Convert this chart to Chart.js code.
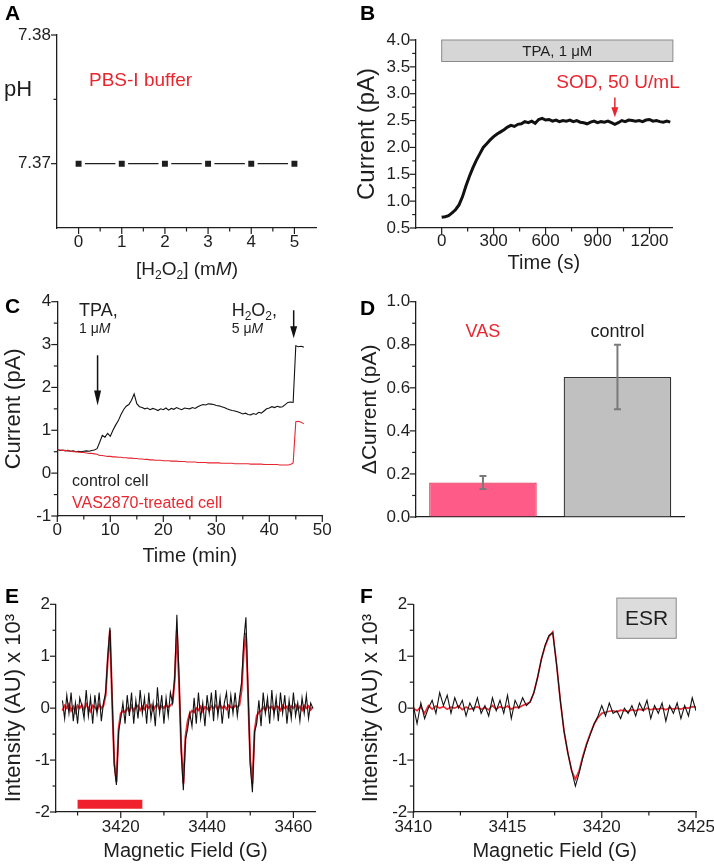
<!DOCTYPE html>
<html>
<head>
<meta charset="utf-8">
<script src="https://cdn.jsdelivr.net/npm/chart.js@4.4.1/dist/chart.umd.min.js"></script>
<style>
  html, body { margin: 0; padding: 0; background: #fff; overflow: hidden; }
  body { width: 714px; height: 865px; position: relative; }
  canvas { position: absolute; }
</style>
</head>
<body>
<canvas id="panelA"></canvas>
<canvas id="panelB"></canvas>
<canvas id="panelC"></canvas>
<canvas id="panelD"></canvas>
<canvas id="panelE"></canvas>
<canvas id="panelF"></canvas>
<script>
/* =====================
   DATA
===================== */

// A: pH vs H2O2
const phConc = [0, 1, 2, 3, 4, 5];
const phValues = [7.37, 7.37, 7.37, 7.37, 7.37, 7.37];

// B: current after TPA, sampled every 20 s from t = 0
const tpaStart = 0, tpaStep = 20;
const tpaCurrent = [
  0.70, 0.71, 0.73, 0.78, 0.84, 0.93, 1.08, 1.28, 1.46, 1.62,
  1.76, 1.88, 2.00, 2.07, 2.14, 2.20, 2.25, 2.29, 2.33, 2.38,
  2.41, 2.39, 2.43, 2.44, 2.48, 2.46, 2.49, 2.45, 2.52, 2.54,
  2.51, 2.52, 2.49, 2.51, 2.48, 2.50, 2.49, 2.51, 2.48, 2.50,
  2.47, 2.46, 2.44, 2.47, 2.49, 2.46, 2.48, 2.47, 2.49, 2.46,
  2.43, 2.46, 2.50, 2.48, 2.51, 2.50, 2.49, 2.50, 2.48, 2.51,
  2.52, 2.49, 2.50, 2.48, 2.47, 2.49, 2.47
];
const tpaBandTime = [0, 1335];
const tpaBandCurrent = [3.6, 4.0];
const sodTime = 1000;
const sodArrow = [2.93, 2.56];

// C: control vs VAS2870 cell, sampled every 0.5 min from t = 0
const cellStart = 0, cellStep = 0.5;
const controlCell = [
  0.55, 0.53, 0.54, 0.52, 0.53, 0.51, 0.52, 0.50, 0.51, 0.50,
  0.51, 0.52, 0.51, 0.53, 0.54, 0.57, 0.72, 0.88, 0.84, 0.93,
  0.86, 1.00, 1.12, 1.22, 1.36, 1.48, 1.56, 1.60, 1.70, 1.85,
  1.62, 1.55, 1.53, 1.50, 1.52, 1.48, 1.51, 1.49, 1.46, 1.50,
  1.48, 1.52, 1.47, 1.51, 1.49, 1.53, 1.50, 1.48, 1.52, 1.51,
  1.50, 1.53, 1.51, 1.55, 1.58, 1.60, 1.59, 1.62, 1.61, 1.60,
  1.58, 1.57, 1.55, 1.53, 1.50, 1.48, 1.46, 1.45, 1.43, 1.41,
  1.38, 1.40, 1.37, 1.36, 1.39, 1.37, 1.42, 1.40, 1.45, 1.50,
  1.52, 1.55, 1.53, 1.56, 1.54, 1.55, 1.60, 1.65, 1.66, 1.65,
  2.97, 2.95, 2.96, 2.94
];
const vasCell = [
  0.55, 0.54, 0.53, 0.53, 0.52, 0.51, 0.50, 0.50, 0.49, 0.48,
  0.48, 0.47, 0.46, 0.46, 0.45, 0.44, 0.41, 0.41, 0.40, 0.39,
  0.39, 0.38, 0.38, 0.37, 0.37, 0.36, 0.36, 0.35, 0.35, 0.34,
  0.34, 0.33, 0.33, 0.32, 0.32, 0.31, 0.31, 0.30, 0.30, 0.30,
  0.29, 0.29, 0.29, 0.28, 0.28, 0.28, 0.27, 0.27, 0.27, 0.26,
  0.26, 0.26, 0.26, 0.25, 0.25, 0.25, 0.25, 0.24, 0.24, 0.24,
  0.24, 0.24, 0.23, 0.23, 0.23, 0.23, 0.23, 0.22, 0.22, 0.22,
  0.22, 0.22, 0.22, 0.21, 0.21, 0.21, 0.21, 0.21, 0.20, 0.20,
  0.20, 0.20, 0.20, 0.20, 0.19, 0.19, 0.19, 0.19, 0.20, 0.24,
  1.20, 1.21, 1.19, 1.15
];
const tpaArrowTime = 7.6, tpaArrow = [2.75, 1.58];
const h2o2ArrowTime = 44.6, h2o2Arrow = [3.8, 3.15];

// D: delta current
const barLabels = ['VAS', 'control'];
const barValues = [0.16, 0.65];
const barErrLow = [0.13, 0.50];
const barErrHigh = [0.19, 0.80];

// E: ESR spectrum, sampled every 0.5 G from 3406.5 G
const esrWideStart = 3406.5, esrWideStep = 0.5;
const esrWideRaw = [
  0.15, -0.2, 0.25, -0.1, 0.3, -0.25, 0.1, -0.3, 0.2, 0.05,
  -0.2, 0.35, -0.15, 0.2, -0.3, 0.25, -0.1, 0.3, -0.25, 0.1,
  0.3, 1.0, 1.55, 0.2, -1.1, -1.48, -0.45, -0.2, 0.1, -0.3,
  0.25, -0.15, 0.3, -0.3, 0.15, -0.2, 0.35, -0.1, 0.2, -0.3,
  0.3, -0.2, 0.1, -0.35, 0.4, -0.1, 0.25, -0.3, 0.2, -0.15,
  0.3, 0.1, 0.6, 1.8, 0.6, -0.8, -1.58, -0.6, -0.4, -0.1,
  -0.35, 0.2, -0.3, 0.3, -0.2, 0.1, -0.35, 0.25, -0.1, 0.3,
  -0.25, 0.35, -0.15, 0.2, -0.3, 0.1, 0.3, -0.2, 0.25, -0.1,
  0.3, -0.15, 0.2, 0.5, 1.3, 1.75, 0.3, -1.1, -1.62, -0.45,
  -0.3, 0.15, -0.35, 0.3, -0.1, 0.2, -0.3, 0.35, -0.15, 0.2,
  -0.25, 0.3, -0.1, 0.25, -0.3, 0.15, -0.2, 0.3, -0.15, 0.1,
  -0.25, 0.2, -0.1, 0.25, -0.2, 0.1, 0.0
];
const esrWideFit = [
  -0.05, 0.05, 0.0, 0.08, -0.05, 0.03, -0.08, 0.05, 0.0, 0.06,
  -0.04, 0.08, 0.0, -0.06, 0.05, 0.02, -0.05, 0.07, 0.0, 0.05,
  0.25, 0.95, 1.5, 0.15, -1.05, -1.42, -0.4, -0.1, -0.05, -0.08,
  0.0, -0.06, 0.04, -0.05, 0.02, 0.05, -0.04, 0.03, -0.02, 0.05,
  0.0, 0.06, -0.04, 0.03, 0.07, -0.02, 0.04, 0.0, 0.06, 0.02,
  0.05, 0.1, 0.55, 1.5, 0.5, -0.75, -1.45, -0.55, -0.25, -0.1,
  -0.05, -0.08, 0.0, -0.04, 0.03, -0.06, 0.02, 0.0, -0.05, 0.04,
  0.0, 0.05, -0.03, 0.06, 0.0, 0.04, -0.02, 0.05, 0.02, 0.0,
  0.05, 0.02, 0.06, 0.35, 1.1, 1.45, 0.25, -1.0, -1.45, -0.45,
  -0.15, -0.08, -0.05, 0.02, -0.04, 0.05, 0.0, 0.03, -0.05, 0.04,
  0.02, -0.04, 0.05, 0.0, 0.03, -0.05, 0.04, 0.0, 0.06, -0.02,
  0.03, -0.04, 0.05, 0.0, 0.04, -0.03, 0.02
];
const scaleBarField = [3410, 3425];
const scaleBarLevel = [-1.85, -1.85];

// F: single line, sampled every 0.2 G from 3410 G
const esrZoomStart = 3410, esrZoomStep = 0.2;
const esrZoomRaw = [
  0.05, -0.3, 0.1, -0.2, 0.0, 0.15, -0.1, 0.3, 0.05, 0.25,
  -0.1, 0.2, 0.0, 0.15, -0.15, 0.1, -0.05, 0.2, -0.1, 0.05,
  -0.15, 0.2, -0.05, 0.15, -0.1, 0.25, -0.2, 0.15, 0.0, 0.2,
  0.05, 0.12, 0.3, 0.6, 0.95, 1.22, 1.4, 1.45, 0.85, 0.15,
  -0.45, -0.86, -1.2, -1.5, -1.25, -0.95, -0.7, -0.5, -0.3, -0.15,
  0.05, -0.15, 0.1, -0.1, -0.05, -0.2, 0.0, -0.1, 0.05, -0.15,
  0.1, -0.05, 0.15, -0.2, 0.05, -0.1, 0.1, -0.25, 0.05, -0.1,
  0.1, -0.2, 0.05, -0.15, 0.2, -0.05
];
const esrZoomFit = [
  0.0, -0.05, 0.03, -0.1, 0.05, -0.02, 0.04, 0.0, 0.03, -0.02,
  0.02, 0.0, 0.04, -0.03, 0.02, -0.02, 0.0, 0.03, -0.02, 0.01,
  -0.03, 0.05, -0.02, 0.03, 0.0, 0.04, -0.02, 0.02, 0.01, 0.05,
  0.08, 0.12, 0.3, 0.6, 0.95, 1.2, 1.38, 1.47, 0.85, 0.15,
  -0.45, -0.86, -1.2, -1.37, -1.2, -0.92, -0.68, -0.48, -0.3, -0.18,
  -0.1, -0.08, -0.06, -0.05, -0.07, -0.04, -0.05, -0.06, -0.03, -0.05,
  -0.02, -0.04, 0.0, -0.03, -0.01, -0.02, 0.0, -0.03, 0.01, -0.02,
  0.0, -0.02, 0.01, 0.0, 0.03, 0.02
];
const esrBoxField = [3420.8, 3423.95];
const esrBoxLevel = [1.345, 2.12];

// tick labels
const aTicksX = [0, 1, 2, 3, 4, 5], aMinorX = [0.5, 1.5, 2.5, 3.5, 4.5];
const aTicksY = [7.37, 7.38], aMinorY = [7.375];
const bTicksX = [0, 300, 600, 900, 1200], bMinorX = [150, 450, 750, 1050];
const bTicksY = [0.5, 1.0, 1.5, 2.0, 2.5, 3.0, 3.5, 4.0], bMinorY = [0.75, 1.25, 1.75, 2.25, 2.75, 3.25, 3.75];
const cTicksX = [0, 10, 20, 30, 40, 50], cMinorX = [5, 15, 25, 35, 45];
const cTicksY = [-1, 0, 1, 2, 3, 4], cMinorY = [-0.5, 0.5, 1.5, 2.5, 3.5];
const dTicksY = [0, 0.2, 0.4, 0.6, 0.8, 1.0], dMinorY = [0.1, 0.3, 0.5, 0.7, 0.9];
const eTicksX = [3420, 3440, 3460], eMinorX = [3410, 3430, 3450];
const esrTicksY = [-2, -1, 0, 1, 2], esrMinorY = [-1.5, -0.5, 0.5, 1.5];
const fTicksX = [3410, 3415, 3420, 3425], fMinorX = [3412.5, 3417.5, 3422.5];

/* =====================
   HELPERS
===================== */

const FONT = "'Liberation Sans', Arial, Helvetica, sans-serif";
const INK = '#1e1e1e';
const RED = '#e8262f';
const TICK_SIZE = 17;

Chart.defaults.font.family = FONT;
Chart.defaults.color = INK;

const grid = (start, step, vals) => vals.map((v, i) => ({ x: +(start + i * step).toFixed(3), y: v }));

function txt(ctx, s, x, y, size, color, o = {}) {
  ctx.save();
  ctx.font = (o.bold ? 'bold ' : '') + size + 'px ' + FONT;
  ctx.fillStyle = color;
  ctx.textAlign = o.align || 'left';
  ctx.textBaseline = o.base || 'alphabetic';
  ctx.fillText(s, x, y);
  ctx.restore();
}

// parts: [text, kind] with kind 'n', 'i' (italic) or 'sub'
function rich(ctx, parts, x, y, size, color, align) {
  const fontOf = k => (k === 'i' ? 'italic ' : '') + (k === 'sub' ? Math.round(size * 0.65) : size) + 'px ' + FONT;
  ctx.save();
  ctx.fillStyle = color;
  ctx.textAlign = 'left';
  ctx.textBaseline = 'alphabetic';
  let w = 0;
  for (const [s, k] of parts) { ctx.font = fontOf(k); w += ctx.measureText(s).width; }
  let cx = align === 'center' ? x - w / 2 : x;
  for (const [s, k] of parts) {
    ctx.font = fontOf(k);
    ctx.fillText(s, cx, k === 'sub' ? y + size * 0.22 : y);
    cx += ctx.measureText(s).width;
  }
  ctx.restore();
}

function arrowDown(ctx, x, y1, y2, color, lw, hw, hl) {
  ctx.save();
  ctx.strokeStyle = color;
  ctx.fillStyle = color;
  ctx.lineWidth = lw;
  ctx.beginPath(); ctx.moveTo(x, y1); ctx.lineTo(x, y2 - hl + 1); ctx.stroke();
  ctx.beginPath();
  ctx.moveTo(x - hw / 2, y2 - hl); ctx.lineTo(x + hw / 2, y2 - hl); ctx.lineTo(x, y2);
  ctx.closePath(); ctx.fill();
  ctx.restore();
}

function buildScale(axisId, spec, box, area) {
  const horiz = axisId === 'x';
  const size = horiz ? (box.y + box.h - area.b) : (area.l - box.x);
  const sc = {
    type: spec.type || 'linear',
    position: horiz ? 'bottom' : 'left',
    afterFit: s => { if (horiz) s.height = size; else s.width = size; },
    grid: { drawOnChartArea: false, drawTicks: false },
    border: { display: true, color: INK, width: 1.3 },
    ticks: {
      display: !!spec.fmt, autoSkip: false, maxRotation: 0,
      padding: spec.pad, color: INK, font: { size: TICK_SIZE }
    },
    title: { display: false }
  };
  if (spec.min !== undefined) { sc.min = spec.min; sc.max = spec.max; }
  if (spec.major) {
    const all = spec.major.concat(spec.minor || []).sort((a, b) => a - b);
    sc.afterBuildTicks = s => { s.ticks = all.map(v => ({ value: v })); };
    sc.ticks.callback = v => spec.major.includes(v) ? spec.fmt(v) : '';
  }
  if (spec.title) {
    const lh = spec.titleSize * 1.2;
    const off = horiz ? (box.y + box.h - spec.titleAt) : (spec.titleAt - box.x);
    const pad = Math.max(off - lh / 2, 0);
    sc.title = {
      display: true, text: spec.title, color: INK, font: { size: spec.titleSize },
      padding: horiz ? { top: 0, bottom: pad } : { top: pad, bottom: 0 }
    };
  }
  return sc;
}

function tickMarks(specs) {
  return {
    id: 'tickMarks',
    afterDraw(chart) {
      const ctx = chart.ctx;
      ctx.save();
      ctx.strokeStyle = INK;
      ctx.lineWidth = 1.2;
      for (const id of ['x', 'y']) {
        const t = specs[id];
        if (!t.major) continue;
        const s = chart.scales[id];
        const marks = t.major.map(v => [v, 6]).concat((t.minor || []).map(v => [v, 3.5]));
        for (const [v, len] of marks) {
          const p = s.getPixelForValue(v);
          ctx.beginPath();
          if (id === 'x') { ctx.moveTo(p, s.top); ctx.lineTo(p, s.top + len); }
          else { ctx.moveTo(s.right, p); ctx.lineTo(s.right - len, p); }
          ctx.stroke();
        }
      }
      ctx.restore();
    }
  };
}

function makePanel(id, box, area, type, datasets, xSpec, ySpec, draw, labels) {
  const canvas = document.getElementById(id);
  canvas.width = box.w; canvas.height = box.h;
  canvas.style.left = box.x + 'px'; canvas.style.top = box.y + 'px';
  canvas.style.width = box.w + 'px'; canvas.style.height = box.h + 'px';
  const P = (x, y) => [x - box.x, y - box.y];
  const data = { datasets };
  if (labels) data.labels = labels;
  return new Chart(canvas, {
    type,
    data,
    options: {
      responsive: false,
      animation: false,
      devicePixelRatio: 1,
      layout: { padding: { left: 0, bottom: 0, top: area.t - box.y, right: box.x + box.w - area.r } },
      plugins: { legend: { display: false }, tooltip: { enabled: false } },
      scales: { x: buildScale('x', xSpec, box, area), y: buildScale('y', ySpec, box, area) }
    },
    plugins: [tickMarks({ x: xSpec, y: ySpec }), {
      id: 'notes',
      afterDraw(chart) { draw(chart.ctx, chart, P); }
    }]
  });
}

const lineSet = (data, color, width) => ({
  data, borderColor: color, borderWidth: width, pointRadius: 0, tension: 0, fill: false
});

/* =====================
   PANEL A
===================== */

makePanel('panelA', { x: 0, y: 0, w: 345, h: 285 }, { l: 57, t: 35, r: 316, b: 228 }, 'line',
  [{
    data: phConc.map((x, i) => ({ x, y: phValues[i] })),
    borderColor: INK, borderWidth: 1.3, tension: 0,
    pointStyle: 'rect', pointRadius: 6.6, pointBackgroundColor: INK,
    pointBorderColor: '#fff', pointBorderWidth: 3.4
  }],
  { min: -0.5, max: 5.5, major: aTicksX, minor: aMinorX, fmt: v => String(v), pad: 4 },
  { min: 7.365, max: 7.38, major: aTicksY, minor: aMinorY, fmt: v => v.toFixed(2), pad: 6 },
  (ctx, chart, P) => {
    txt(ctx, 'A', ...P(5, 20), 21, '#000', { bold: true });
    txt(ctx, 'pH', ...P(4, 96), 22, INK);
    txt(ctx, 'PBS-I buffer', ...P(89, 86.3), 19, RED);
    rich(ctx, [['[H', 'n'], ['2', 'sub'], ['O', 'n'], ['2', 'sub'], ['] (m', 'n'], ['M', 'i'], [')', 'n']],
      ...P(187, 274.5), 19, INK, 'center');
  });

/* =====================
   PANEL B
===================== */

makePanel('panelB', { x: 345, y: 0, w: 385, h: 285 }, { l: 415.7, t: 40, r: 672, b: 228 }, 'line',
  [lineSet(grid(tpaStart, tpaStep, tpaCurrent), '#111', 3)],
  { min: -150, max: 1330, major: bTicksX, minor: bMinorX, fmt: v => String(v), pad: 3,
    title: 'Time (s)', titleSize: 20, titleAt: 263 },
  { min: 0.5, max: 4.0, major: bTicksY, minor: bMinorY, fmt: v => v.toFixed(1), pad: 5.5,
    title: 'Current (pA)', titleSize: 24, titleAt: 367.5 },
  (ctx, chart, P) => {
    const xs = chart.scales.x, ys = chart.scales.y;
    txt(ctx, 'B', ...P(360, 20), 21, '#000', { bold: true });
    const x0 = xs.getPixelForValue(tpaBandTime[0]), x1 = xs.getPixelForValue(tpaBandTime[1]);
    const y0 = ys.getPixelForValue(tpaBandCurrent[1]), y1 = ys.getPixelForValue(tpaBandCurrent[0]);
    ctx.save();
    ctx.fillStyle = '#d6d6d6';
    ctx.strokeStyle = '#8a8a8a';
    ctx.lineWidth = 1;
    ctx.fillRect(x0, y0, x1 - x0, y1 - y0);
    ctx.strokeRect(x0, y0, x1 - x0, y1 - y0);
    ctx.restore();
    txt(ctx, 'TPA, 1 \u03bcM', (x0 + x1) / 2, (y0 + y1) / 2 + 1, 15, INK, { align: 'center', base: 'middle' });
    txt(ctx, 'SOD, 50 U/mL', ...P(618, 87.6), 19, RED, { align: 'center' });
    const ax = xs.getPixelForValue(sodTime);
    arrowDown(ctx, ax, ys.getPixelForValue(sodArrow[0]), ys.getPixelForValue(sodArrow[1]), RED, 1.5, 7, 10);
  });

/* =====================
   PANEL C
===================== */

makePanel('panelC', { x: 0, y: 285, w: 345, h: 290 }, { l: 57.3, t: 301.7, r: 322.3, b: 516 }, 'line',
  [lineSet(grid(cellStart, cellStep, vasCell), RED, 1.1),
   lineSet(grid(cellStart, cellStep, controlCell), '#111', 1.1)],
  { min: 0, max: 50, major: cTicksX, minor: cMinorX, fmt: v => String(v), pad: 4,
    title: 'Time (min)', titleSize: 20, titleAt: 556.7 },
  { min: -1, max: 4, major: cTicksY, minor: cMinorY, fmt: v => String(v), pad: 6,
    title: 'Current (pA)', titleSize: 22, titleAt: 13.5 },
  (ctx, chart, P) => {
    const xs = chart.scales.x, ys = chart.scales.y;
    txt(ctx, 'C', ...P(5, 313), 21, '#000', { bold: true });
    txt(ctx, 'TPA,', ...P(79, 316), 18, INK);
    rich(ctx, [['1 \u03bc', 'n'], ['M', 'i']], ...P(79, 333.3), 14, INK);
    rich(ctx, [['H', 'n'], ['2', 'sub'], ['O', 'n'], ['2', 'sub'], [',', 'n']], ...P(231.7, 316), 18, INK);
    rich(ctx, [['5 \u03bc', 'n'], ['M', 'i']], ...P(231.7, 333.3), 14, INK);
    arrowDown(ctx, xs.getPixelForValue(tpaArrowTime), ys.getPixelForValue(tpaArrow[0]),
      ys.getPixelForValue(tpaArrow[1]), '#111', 1.5, 7, 15);
    arrowDown(ctx, xs.getPixelForValue(h2o2ArrowTime), ys.getPixelForValue(h2o2Arrow[0]),
      ys.getPixelForValue(h2o2Arrow[1]), '#111', 1.5, 7, 12);
    txt(ctx, 'control cell', ...P(72, 485.8), 16, INK);
    txt(ctx, 'VAS2870-treated cell', ...P(72, 507.5), 16, RED);
  });

/* =====================
   PANEL D
===================== */

makePanel('panelD', { x: 345, y: 285, w: 385, h: 290 }, { l: 415.7, t: 301.7, r: 684.7, b: 517 }, 'bar',
  [{
    data: barValues,
    backgroundColor: ['#ff5b88', '#c0c0c0'],
    borderColor: ['#e23a55', '#333'],
    borderWidth: 1.3,
    barPercentage: 0.8,
    categoryPercentage: 1.0
  }],
  { type: 'category' },
  { min: 0, max: 1, major: dTicksY, minor: dMinorY, fmt: v => v.toFixed(1), pad: 5.5,
    title: '\u0394Current (pA)', titleSize: 21, titleAt: 370 },
  (ctx, chart, P) => {
    const ys = chart.scales.y;
    txt(ctx, 'D', ...P(360, 315), 21, '#000', { bold: true });
    const bars = chart.getDatasetMeta(0).data;
    txt(ctx, 'VAS', bars[0].x, P(0, 337.2)[1], 18, RED, { align: 'center' });
    txt(ctx, 'control', bars[1].x, P(0, 337.2)[1], 18, INK, { align: 'center' });
    ctx.save();
    ctx.strokeStyle = '#7a7a7a';
    ctx.lineWidth = 2;
    bars.forEach((b, i) => {
      const lo = ys.getPixelForValue(barErrLow[i]), hi = ys.getPixelForValue(barErrHigh[i]);
      ctx.beginPath();
      ctx.moveTo(b.x, lo); ctx.lineTo(b.x, hi);
      ctx.moveTo(b.x - 3.5, lo); ctx.lineTo(b.x + 3.5, lo);
      ctx.moveTo(b.x - 3.5, hi); ctx.lineTo(b.x + 3.5, hi);
      ctx.stroke();
    });
    ctx.restore();
  }, barLabels);

/* =====================
   PANEL E
===================== */

makePanel('panelE', { x: 0, y: 575, w: 345, h: 290 }, { l: 56, t: 604.3, r: 315, b: 812 }, 'line',
  [lineSet(grid(esrWideStart, esrWideStep, esrWideRaw), '#111', 1.1),
   lineSet(grid(esrWideStart, esrWideStep, esrWideFit), '#ee2a33', 2),
   Object.assign(lineSet(scaleBarField.map((x, i) => ({ x, y: scaleBarLevel[i] })), '#f0202c', 9),
     { borderCapStyle: 'butt' })],
  { min: 3405, max: 3465, major: eTicksX, minor: eMinorX, fmt: v => String(v), pad: 5,
    title: 'Magnetic Field (G)', titleSize: 20, titleAt: 851.7 },
  { min: -2, max: 2, major: esrTicksY, minor: esrMinorY, fmt: v => String(v), pad: 6,
    title: 'Intensity (AU) x 10\u00b3', titleSize: 22, titleAt: 14 },
  (ctx, chart, P) => {
    txt(ctx, 'E', ...P(5, 603), 21, '#000', { bold: true });
  });

/* =====================
   PANEL F
===================== */

makePanel('panelF', { x: 345, y: 575, w: 385, h: 290 }, { l: 413.3, t: 604.3, r: 696, b: 812 }, 'line',
  [lineSet(grid(esrZoomStart, esrZoomStep, esrZoomRaw), '#111', 1.1),
   lineSet(grid(esrZoomStart, esrZoomStep, esrZoomFit), '#ee2a33', 1.7)],
  { min: 3410, max: 3425, major: fTicksX, minor: fMinorX, fmt: v => String(v), pad: 5,
    title: 'Magnetic Field (G)', titleSize: 20, titleAt: 851.7 },
  { min: -2, max: 2, major: esrTicksY, minor: esrMinorY, fmt: v => String(v), pad: 6,
    title: 'Intensity (AU) x 10\u00b3', titleSize: 22, titleAt: 371 },
  (ctx, chart, P) => {
    const xs = chart.scales.x, ys = chart.scales.y;
    txt(ctx, 'F', ...P(360, 603), 21, '#000', { bold: true });
    const x0 = xs.getPixelForValue(esrBoxField[0]), x1 = xs.getPixelForValue(esrBoxField[1]);
    const y0 = ys.getPixelForValue(esrBoxLevel[1]), y1 = ys.getPixelForValue(esrBoxLevel[0]);
    ctx.save();
    ctx.fillStyle = '#dcdcdc';
    ctx.strokeStyle = '#8a8a8a';
    ctx.lineWidth = 1;
    ctx.fillRect(x0, y0, x1 - x0, y1 - y0);
    ctx.strokeRect(x0, y0, x1 - x0, y1 - y0);
    ctx.restore();
    txt(ctx, 'ESR', (x0 + x1) / 2, (y0 + y1) / 2 + 1, 21, INK, { align: 'center', base: 'middle' });
  });
</script>
</body>
</html>
